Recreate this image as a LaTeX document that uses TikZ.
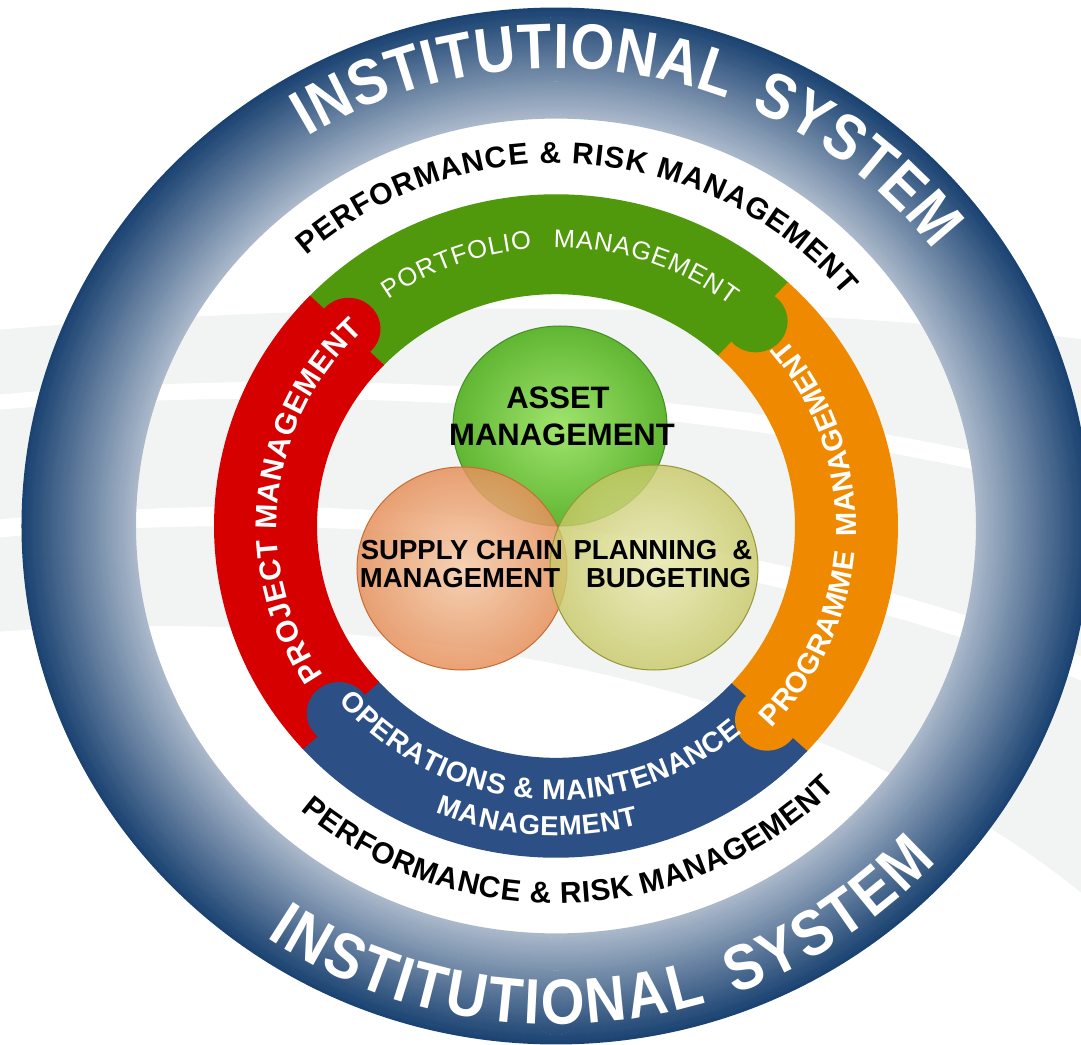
\documentclass[tikz,border=0pt]{standalone}
\usepackage{fontspec}
\setmainfont{Liberation Sans}
\newfontfamily\instfont{Liberation Sans}[FakeStretch=0.88]
\usetikzlibrary{decorations.text}

\definecolor{ringdark}{RGB}{27,67,114}
\definecolor{ringlight}{RGB}{170,184,202}
\definecolor{segred}{RGB}{214,0,0}
\definecolor{seggreen}{RGB}{80,152,12}
\definecolor{segorange}{RGB}{239,137,0}
\definecolor{segblue}{RGB}{44,80,134}
\definecolor{swooshgrey}{RGB}{241,244,242}
\definecolor{vgin}{RGB}{160,228,110}
\definecolor{vgout}{RGB}{96,182,50}
\definecolor{vgline}{RGB}{70,140,40}
\definecolor{voin}{RGB}{247,204,170}
\definecolor{voout}{RGB}{230,145,92}
\definecolor{voline}{RGB}{200,108,50}
\definecolor{vyin}{RGB}{234,234,176}
\definecolor{vyout}{RGB}{200,200,102}
\definecolor{vyline}{RGB}{150,150,60}

\newcommand\fInst{\instfont\bfseries\fontsize{64}{70}\selectfont}
\newcommand\fPerf{\bfseries\fontsize{30}{34}\selectfont}
\newcommand\fPort{\fontsize{25.5}{30}\selectfont}
\newcommand\fSeg{\bfseries\fontsize{29}{34}\selectfont}
\newcommand\fSegB{\bfseries\fontsize{30}{34}\selectfont}
\newcommand\fOM{\bfseries\fontsize{28.5}{32}\selectfont}
\newcommand\fOMb{\bfseries\fontsize{27.5}{32}\selectfont}

\begin{document}
\begin{tikzpicture}[x=1pt, y=1pt,
  ringtext/.style={decorate, decoration={text along path, text align=fit to path, text color=#1}},
  venntext/.style={font=\bfseries\fontsize{27.5}{30}\selectfont, text=black, inner sep=0pt},
  venntextbig/.style={font=\bfseries\fontsize{31}{33}\selectfont, text=black, inner sep=0pt},
  vennline/.style={line width=1pt}
]
\useasboundingbox (-556,-518) rectangle (525,526);

% background swooshes (image pixel coordinates)
\begin{scope}[shift={(-556,526)}, yscale=-1]
  \fill[swooshgrey] (-5,330) .. controls (350,300) and (750,300) .. (1090,340) -- (1090,900) .. controls (850,700) and (450,600) .. (-5,632) -- cycle;
  \fill[white] (-5,395) .. controls (350,362) and (750,392) .. (1090,478) -- (1090,496) .. controls (750,410) and (350,380) .. (-5,410) -- cycle;
  \fill[white] (-5,520) .. controls (350,482) and (750,525) .. (1090,660) -- (1090,684) .. controls (750,548) and (350,502) .. (-5,538) -- cycle;
\end{scope}

\begin{scope}[yscale=0.97]
  % outer ring with radial gradient
  \foreach \i in {0,...,56}{
    \pgfmathsetmacro\rA{420+2*\i}
    \pgfmathsetmacro\rB{\rA+2.5}
    \pgfmathtruncatemacro\pp{round(100*\i/56)}
    \fill[ringdark!\pp!ringlight, even odd rule] (0,0) circle[radius=\rA] circle[radius=\rB];
  }
  % coloured segments
  \fill[seggreen] (136.3:342) arc[start angle=136.3, end angle=47, radius=342] -- (47:239) arc[start angle=47, end angle=136.3, radius=239] -- cycle;
  \fill[segorange] (47.3:342) arc[start angle=47.3, end angle=-43, radius=342] -- (-43:239) arc[start angle=-43, end angle=47.3, radius=239] -- cycle;
  \fill[segblue] (-42.7:342) arc[start angle=-42.7, end angle=-138, radius=342] -- (-138:239) arc[start angle=-138, end angle=-42.7, radius=239] -- cycle;
  \fill[segred] (-137.7:342) arc[start angle=-137.7, end angle=-224, radius=342] -- (-224:239) arc[start angle=-224, end angle=-137.7, radius=239] -- cycle;
  % puzzle knobs
  \fill[segred] (135.6:290.5) circle[radius=32];
  \fill[seggreen] (46.6:290.5) circle[radius=32];
  \fill[segorange] (-43.4:290.5) circle[radius=32];
  \fill[segblue] (-138.4:290.5) circle[radius=32];
\end{scope}

% texts along the rings
\path[ringtext=white, decoration={text={|\fInst|INSTITUTIONAL{\hspace{24pt}}SYSTEM}}]
  (121.7:472 and 457.84) arc[start angle=121.7, end angle=37, x radius=472, y radius=457.84];
\path[ringtext=white, decoration={text={|\fInst|INSTITUTIONAL{\hspace{24pt}}SYSTEM}}]
  (-124.3:514 and 498.58) arc[start angle=-124.3, end angle=-42.3, x radius=514, y radius=498.58];
\path[ringtext=black, decoration={text={|\fPerf|PERFORMANCE {\&} RISK MANAGEMENT}}]
  (131.9:374 and 362.78) arc[start angle=131.9, end angle=39.4, x radius=374, y radius=362.78];
\path[ringtext=black, decoration={text={|\fPerf|PERFORMANCE {\&} RISK MANAGEMENT}}]
  (-131:389 and 377.33) arc[start angle=-131, end angle=-44, x radius=389, y radius=377.33];
\path[ringtext=white, decoration={text={|\fPort|PORTFOLIO{\hspace{20pt}}MANAGEMENT}}]
  (125.6:287 and 278.39) arc[start angle=125.6, end angle=52.5, x radius=287, y radius=278.39];
\path[ringtext=white, decoration={text={|\fSeg|PROGRAMME{\hspace{16pt}}MANAGEMENT}}]
  (-44:300 and 291) arc[start angle=-44, end angle=40, x radius=300, y radius=291];
\path[ringtext=white, decoration={text={|\fSegB|PROJECT MANAGEMENT}}]
  (213.5:279 and 270.63) arc[start angle=213.5, end angle=133.7, x radius=279, y radius=270.63];
\path[ringtext=white, decoration={text={|\fOM|OPERATIONS {\&} MAINTENANCE}}]
  (-140.2:282.5 and 274.03) arc[start angle=-140.2, end angle=-48.8, x radius=282.5, y radius=274.03];
\path[ringtext=white, decoration={text={|\fOMb|MANAGEMENT}}]
  (-112.2:319 and 309.43) arc[start angle=-112.2, end angle=-75, x radius=319, y radius=309.43];

% Venn circles
\shade[inner color=vgin, outer color=vgout] (4,100) ellipse[x radius=107, y radius=100];
\draw[vgline, vennline] (4,100) ellipse[x radius=107, y radius=100];
\shade[inner color=voin, outer color=voout, opacity=0.85] (-94,-42.5) ellipse[x radius=105, y radius=101.5];
\draw[voline, vennline] (-94,-42.5) ellipse[x radius=105, y radius=101.5];
\shade[inner color=vyin, outer color=vyout, opacity=0.8] (98,-41.5) ellipse[x radius=104, y radius=102.5];
\draw[vyline, vennline] (98,-41.5) ellipse[x radius=104, y radius=102.5];

% Venn texts
\node[venntextbig] (asset1) at (2,128) {ASSET};
\node[venntextbig] (asset2) at (6,91) {MANAGEMENT};
\node[venntext] (scm1) at (-94,-24) {SUPPLY CHAIN};
\node[venntext] (scm2) at (-96,-52) {MANAGEMENT};
\node[venntext] (pb1) at (107,-24) {PLANNING\ \ \&};
\node[venntext] (pb2) at (112.5,-52) {BUDGETING};
\end{tikzpicture}
\end{document}
